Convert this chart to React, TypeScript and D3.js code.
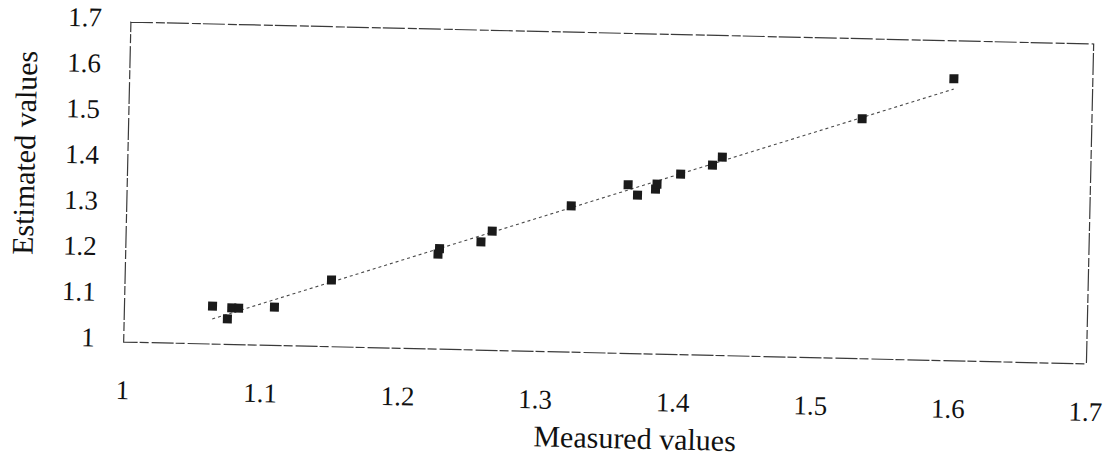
import React from "react";
import * as d3 from "d3";

// Measured vs. estimated values, one entry per sample
const measured = [
  1.064, 1.075, 1.078, 1.083, 1.109, 1.15, 1.227, 1.228, 1.258, 1.266,
  1.323, 1.364, 1.371, 1.384, 1.385, 1.402, 1.425, 1.432, 1.533, 1.599,
];
const estimated = [
  1.083, 1.056, 1.08, 1.08, 1.084, 1.146, 1.208, 1.22, 1.237, 1.261,
  1.32, 1.369, 1.347, 1.361, 1.372, 1.395, 1.416, 1.434, 1.525, 1.617,
];

const xTicks = [1, 1.1, 1.2, 1.3, 1.4, 1.5, 1.6, 1.7];
const yTicks = [1, 1.1, 1.2, 1.3, 1.4, 1.5, 1.6, 1.7];
const xTitle = "Measured values";
const yTitle = "Estimated values";

const W = 1112;
const H = 459;
const frame = { left: 127, right: 1090, top: 33, bottom: 353 };
const textStyle: React.CSSProperties = {
  fontFamily: '"Liberation Serif", "DejaVu Serif", serif',
};

export default function App() {
  const x = d3.scaleLinear().domain([1, 1.7]).range([frame.left, frame.right]);
  const y = d3.scaleLinear().domain([1, 1.7]).range([frame.bottom, frame.top]);

  const pts = measured.map((m, i) => ({ m, e: estimated[i] }));

  // least-squares trend line over the measured range
  const mx = d3.mean(measured) as number;
  const my = d3.mean(estimated) as number;
  let sxy = 0;
  let sxx = 0;
  pts.forEach((p) => {
    sxy += (p.m - mx) * (p.e - my);
    sxx += (p.m - mx) * (p.m - mx);
  });
  const slope = sxy / sxx;
  const icpt = my - slope * mx;
  const [x0, x1] = d3.extent(measured) as [number, number];
  const trend = d3
    .line<number>()
    .x((v) => x(v))
    .y((v) => y(icpt + slope * v))([x0, x1]);

  const sq = 9;

  return (
    <svg
      width={W}
      height={H}
      style={{ position: "absolute", left: 0, top: 0, background: "#fff" }}
    >
      <rect width={W} height={H} fill="#fff" />
      <g transform="rotate(1.3 608 200)">
        <rect
          x={frame.left}
          y={frame.top}
          width={frame.right - frame.left}
          height={frame.bottom - frame.top}
          fill="none"
          stroke="#3a3a3a"
          strokeWidth={1.2}
          strokeDasharray="22 3 9 2"
        />
        <path
          d={trend ?? ""}
          fill="none"
          stroke="#4a4a4a"
          strokeWidth={1.1}
          strokeDasharray="3 3"
        />
        {pts.map((p, i) => (
          <rect
            key={i}
            x={x(p.m) - sq / 2}
            y={y(p.e) - sq / 2}
            width={sq}
            height={sq}
            fill="#1a1a1a"
          />
        ))}
        {yTicks.map((t) => (
          <text
            key={"y" + t}
            x={98}
            y={y(t) - 4}
            dy="0.34em"
            textAnchor="end"
            fontSize={27}
            fill="#111"
            style={textStyle}
          >
            {String(t)}
          </text>
        ))}
        {xTicks.map((t) => (
          <text
            key={"x" + t}
            x={x(t)}
            y={410}
            textAnchor="middle"
            fontSize={27}
            fill="#111"
            style={textStyle}
          >
            {String(t)}
          </text>
        ))}
        <text
          x={640}
          y={448}
          textAnchor="middle"
          fontSize={30}
          fill="#111"
          style={textStyle}
        >
          {xTitle}
        </text>
        <text
          transform="translate(34 166) rotate(-90)"
          textAnchor="middle"
          fontSize={30}
          fill="#111"
          style={textStyle}
        >
          {yTitle}
        </text>
      </g>
    </svg>
  );
}
